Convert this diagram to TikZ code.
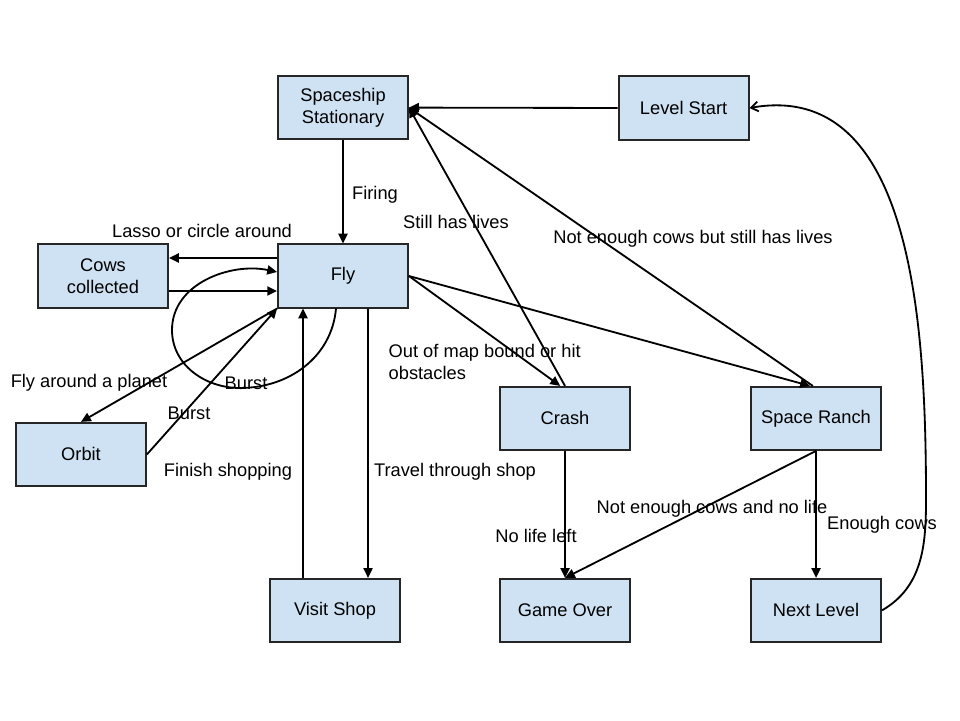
\documentclass[tikz,border=0pt]{standalone}
\usepackage{fontspec}
\setmainfont{Liberation Sans}
\usepackage{xcolor}
\usepackage{tikz}
\usetikzlibrary{arrows.meta, positioning}
\definecolor{boxblue}{RGB}{207,226,243}
\tikzset{
  statebox/.style={
    draw=black!85, line width=1.3pt, fill=boxblue, align=center,
    minimum width=3.25cm, minimum height=1.58cm,
    font=\fontsize{13}{15.6}\selectfont
  },
  flowarrow/.style={-{Triangle[length=7pt,width=6.5pt]}, line width=1.3pt, color=black},
  backarrow/.style={-{Straight Barb[length=5pt,width=7pt]}, line width=1.3pt, color=black},
  edgelabel/.style={font=\fontsize{13}{15.6}\selectfont, inner sep=1pt, align=left},
}

\begin{document}
\begin{tikzpicture}
  \useasboundingbox (0,0) rectangle (24,18);

  % states
  \node[statebox] (ship) at (8.575,15.31) {Spaceship\\Stationary};
  \node[statebox] (start) at (17.09,15.3) {Level Start};
  \node[statebox] (cows) at (2.575,11.1) {Cows\\collected};
  \node[statebox] (fly) at (8.575,11.1) {Fly};
  \node[statebox] (orbit) at (2.025,6.64) {Orbit};
  \node[statebox] (crash) at (14.125,7.54) {Crash};
  \node[statebox] (ranch) at (20.4,7.54) {Space Ranch};
  \node[statebox] (shop) at (8.375,2.74) {Visit Shop};
  \node[statebox] (over) at (14.125,2.74) {Game Over};
  \node[statebox] (next) at (20.4,2.74) {Next Level};

  \coordinate (loopbot) at (6.0,8.3);
  \coordinate (loopleft) at (4.3,9.75);
  \coordinate (returnbend) at (23.15,5.5);

  % transitions
  \draw[flowarrow] (start.west) -- (ship.east);
  \draw[flowarrow] (ship.south) -- (fly.north);
  \draw[flowarrow] ([yshift=0.45cm]fly.west) -- ([yshift=0.45cm]cows.east);
  \draw[flowarrow] ([yshift=-0.375cm]cows.east) -- ([yshift=-0.375cm]fly.west);
  \draw[flowarrow] ([xshift=-0.175cm]fly.south) to[out=-95,in=0] (loopbot)
    to[out=180,in=-90] (loopleft) to[out=90,in=168] ([yshift=0.1cm]fly.west);
  \draw[flowarrow] (fly.south west) -- (orbit.north);
  \draw[flowarrow] (orbit.east) -- (fly.south west);
  \draw[flowarrow] ([xshift=-0.8cm]shop.north) -- ([xshift=-1cm]fly.south);
  \draw[flowarrow] ([xshift=0.625cm]fly.south) -- ([xshift=0.825cm]shop.north);
  \draw[flowarrow] (fly.east) -- ([xshift=-0.12cm]crash.north);
  \draw[flowarrow] (crash.north) -- (ship.east);
  \draw[flowarrow] (fly.east) -- ([xshift=-0.15cm]ranch.north);
  \draw[flowarrow] ([xshift=-0.08cm]ranch.north) -- (ship.east);
  \draw[flowarrow] (crash.south) -- (over.north);
  \draw[flowarrow] (ranch.south) -- (over.north);
  \draw[flowarrow] (ranch.south) -- (next.north);
  \draw[backarrow] (next.east) to[out=30,in=-90] (returnbend)
    to[out=90,in=10] (start.east);

  % labels
  \node[edgelabel] (lfiring) at (9.375,13.125) {Firing};
  \node[edgelabel] (llasso) at (5.05,12.225) {Lasso or circle around};
  \node[edgelabel] (lplanet) at (2.225,8.425) {Fly around a planet};
  \node[edgelabel] (lburstloop) at (6.15,8.425) {Burst};
  \node[edgelabel] (lburstorbit) at (4.725,7.675) {Burst};
  \node[edgelabel] (lfinish) at (5.7,6.2) {Finish shopping};
  \node[edgelabel] (ltravel) at (11.375,6.2) {Travel through shop};
  \node[edgelabel, anchor=west] (lbound) at (9.675,8.95) {Out of map bound or hit\\obstacles};
  \node[edgelabel] (lstill) at (11.4,12.45) {Still has lives};
  \node[edgelabel] (lnotenough) at (17.325,12.025) {Not enough cows but still has lives};
  \node[edgelabel] (lnolife) at (13.4,4.6) {No life left};
  \node[edgelabel] (lnocows) at (17.8,5.275) {Not enough cows and no life};
  \node[edgelabel] (lenough) at (22.05,4.875) {Enough cows};
\end{tikzpicture}
\end{document}
